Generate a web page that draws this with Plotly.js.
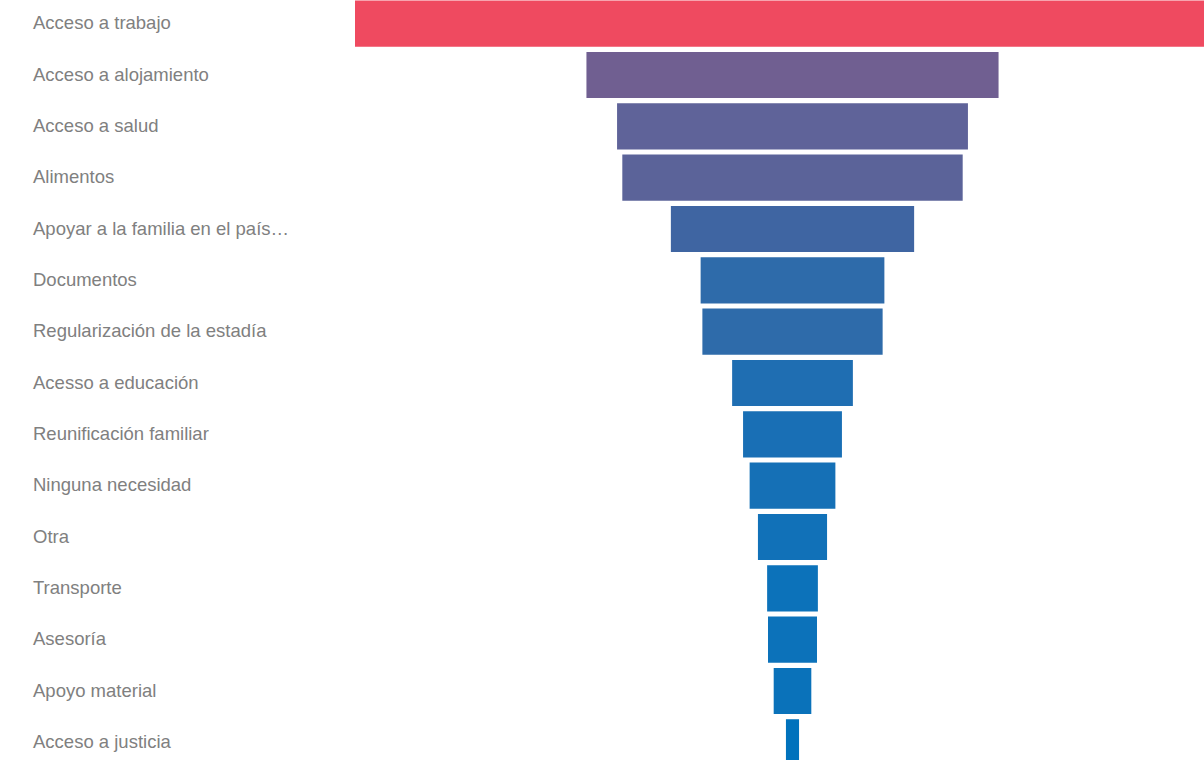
<!DOCTYPE html>
<html>
<head>
<meta charset="utf-8">
<script src="https://cdn.plot.ly/plotly-3.0.1.min.js"></script>
<style>
html,body{margin:0;padding:0;overflow:hidden;background:#fff;}
#chart{position:absolute;left:0;top:-2px;width:1230px;height:770px;}
</style>
</head>
<body>
<div id="chart"></div>
<script>
const categories = [
  "Acceso a trabajo",
  "Acceso a alojamiento",
  "Acceso a salud",
  "Alimentos",
  "Apoyar a la familia en el país…",
  "Documentos",
  "Regularización de la estadía",
  "Acesso a educación",
  "Reunificación familiar",
  "Ninguna necesidad",
  "Otra",
  "Transporte",
  "Asesoría",
  "Apoyo material",
  "Acceso a justicia"
];
const values = [100, 47.1, 40.1, 38.9, 27.8, 21.0, 20.6, 13.8, 11.3, 9.8, 7.9, 5.8, 5.6, 4.3, 1.5];
const barColors = [
  "#EF4A60", "#705F91", "#5F6399", "#5B6399", "#3F65A2",
  "#2E6BAA", "#2E6BAA", "#1F6EB2", "#196FB5", "#1570B6",
  "#1171B8", "#0C72BA", "#0C72BA", "#0A72BA", "#0072BC"
];

const maxV = Math.max(...values);

const trace = {
  type: "funnel",
  y: categories,
  x: values,
  orientation: "h",
  marker: {color: barColors, line: {width: 0}},
  connector: {visible: false},
  textinfo: "none",
  hoverinfo: "y+x"
};

const annotations = categories.map(c => ({
  xref: "paper", yref: "y", x: 0, y: c,
  xshift: -324, yshift: 1, xanchor: "left", yanchor: "middle",
  text: c, showarrow: false,
  font: {family: "Liberation Sans, Arial, sans-serif", size: 18.5, color: "#808080"}
}));

const layout = {
  width: 1230, height: 770,
  margin: {l: 355, r: 0, t: 0, b: 0, pad: 0},
  paper_bgcolor: "#ffffff",
  plot_bgcolor: "#ffffff",
  showlegend: false,
  funnelgap: 0.1,
  xaxis: {range: [-maxV / 2, maxV / 2], visible: false, fixedrange: true},
  yaxis: {showticklabels: false, showgrid: false, zeroline: false, showline: false, ticks: "", fixedrange: true},
  annotations: annotations
};

Plotly.newPlot("chart", [trace], layout, {displayModeBar: false, staticPlot: true});
</script>
</body>
</html>
